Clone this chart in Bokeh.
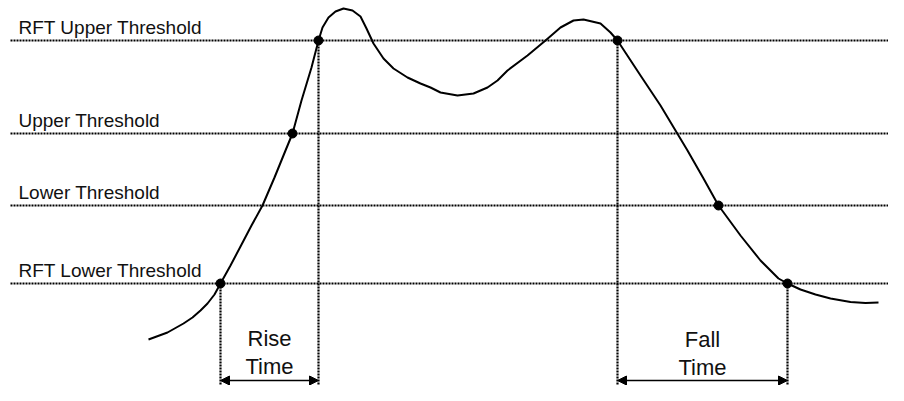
from bokeh.plotting import figure
from bokeh.models import Range1d, Arrow, NormalHead
from bokeh.core.properties import value
from bokeh.embed import file_html
from bokeh.resources import INLINE

# ---- data (diagram units: x to the right, y downward) ----
wave_x = [148, 167, 183, 192, 200, 207, 214, 220, 230, 240, 251, 262, 274, 285, 292,
          301, 311, 318, 322, 328, 335, 343, 352, 360, 366, 373, 383, 393, 407, 420,
          430, 440, 457, 473, 487, 497, 507, 527, 545, 560, 573, 583, 600, 610, 617,
          640, 660, 687, 703, 718, 740, 760, 778, 787, 800, 815, 830, 850, 865, 878]
wave_y = [339, 332, 323, 317, 310, 303, 294, 283, 265, 246, 225, 205, 177, 150, 133,
          100, 67, 40, 27, 17, 11, 8, 10, 16, 28, 43, 58, 68, 77, 83,
          87, 92, 95, 93, 87, 80, 70, 55, 40, 27, 20, 19, 23, 32, 40,
          75, 105, 150, 178, 205, 235, 260, 278, 283, 289, 294, 298, 301.5, 302.5, 302]

threshold_levels = [40, 133, 205, 283]
threshold_labels = ["RFT Upper Threshold", "Upper Threshold", "Lower Threshold", "RFT Lower Threshold"]

cross_x = [220, 292, 318, 617, 718, 787]
cross_y = [283, 133, 40, 40, 205, 283]

vert_x = [220, 318, 617, 787]
vert_top = [283, 40, 40, 283]

rise_span = (220, 318)
fall_span = (617, 787)
arrow_level = 380

p = figure(width=888, height=385, output_backend="svg", toolbar_location=None,
           x_range=Range1d(0, 888), y_range=Range1d(385, 0),
           x_axis_type=None, y_axis_type=None, min_border=0,
           outline_line_color=None, background_fill_color="white",
           border_fill_color="white")
p.grid.visible = False

dot_color = "black"
p.segment(x0=[10] * 4, x1=[904] * 4, y0=threshold_levels, y1=threshold_levels,
          line_color=dot_color, line_width=2.2, line_dash="2 1")
p.segment(x0=vert_x, x1=vert_x, y0=vert_top, y1=[401] * 4,
          line_color=dot_color, line_width=2.2, line_dash="2 1")

p.text(x=[18] * 4, y=[t - 13.5 for t in threshold_levels], text=threshold_labels,
       text_font=value("Liberation Sans"), text_font_size="19px",
       text_color="#111111", text_baseline="alphabetic", text_align="left")

p.line(wave_x, wave_y, line_color="black", line_width=2)
p.scatter(cross_x, cross_y, size=9, fill_color="black", line_color="black")

for a, b in (rise_span, fall_span):
    p.add_layout(Arrow(start=NormalHead(size=9, fill_color="black", line_color="black"),
                       end=NormalHead(size=9, fill_color="black", line_color="black"),
                       x_start=a, x_end=b, y_start=arrow_level, y_end=arrow_level,
                       line_color="black", line_width=1.5))

mid_r = (rise_span[0] + rise_span[1]) / 2
mid_f = (fall_span[0] + fall_span[1]) / 2
p.text(x=[mid_r, mid_r, mid_f, mid_f], y=[338, 366, 339, 367],
       text=["Rise", "Time", "Fall", "Time"],
       text_font=value("Liberation Sans"), text_font_size="22px",
       text_color="#111111", text_baseline="alphabetic", text_align="center")

open("out.html", "w").write(file_html(p, INLINE))
